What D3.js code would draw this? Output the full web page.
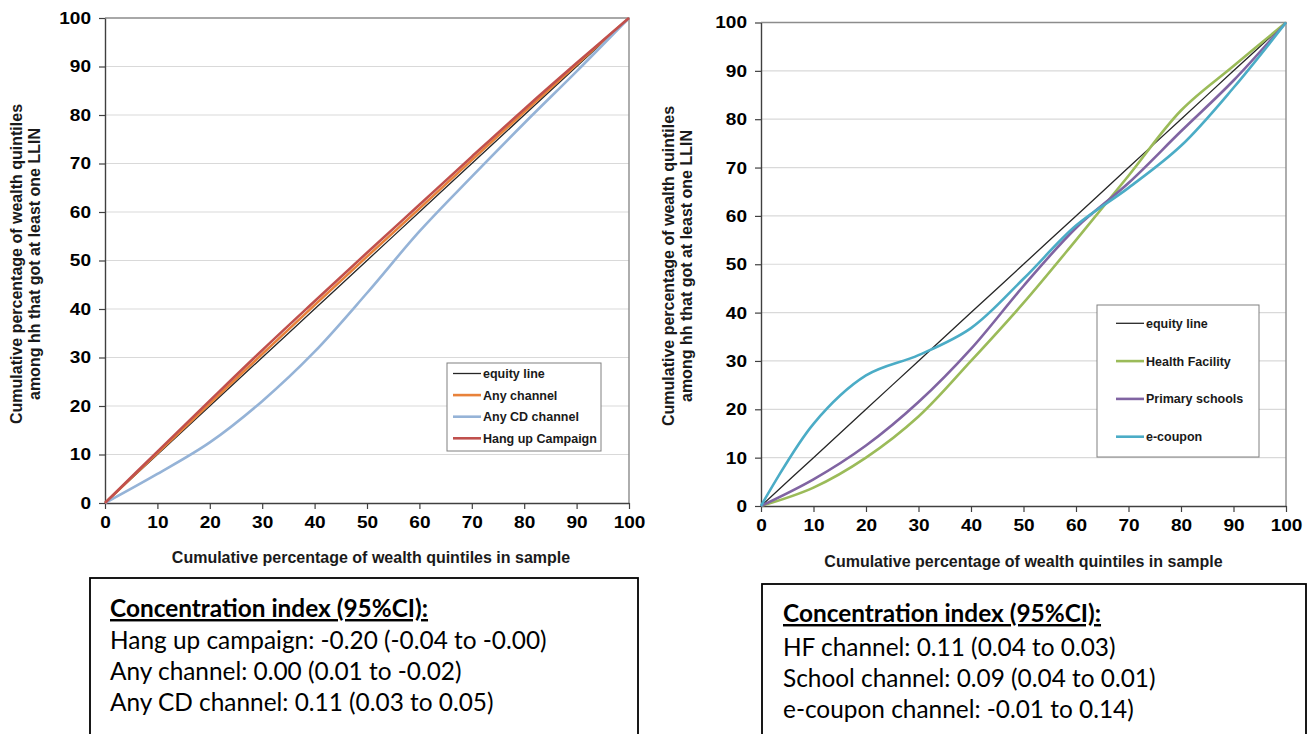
<!DOCTYPE html>
<html>
<head>
<meta charset="utf-8">
<script src="https://cdn.jsdelivr.net/npm/d3@7"></script>
<style>
  body { margin: 0; background: #fff; }
  svg { display: block; }
  .tick text { font-family: "Liberation Sans", Arial, sans-serif; font-weight: bold; font-size: 17px; fill: #000; }
</style>
</head>
<body>
<svg id="chart" width="1310" height="734"></svg>
<script>
// Cumulative percentage of the sample (x) and tick values
const xPct = [0, 10, 20, 30, 40, 50, 60, 70, 80, 90, 100];
const axisTicks = [0, 10, 20, 30, 40, 50, 60, 70, 80, 90, 100];

// Concentration curves: cumulative % of households with at least one LLIN
const equityLine     = [0, 10, 20, 30, 40, 50, 60, 70, 80, 90, 100];
const anyChannel     = [0, 10.3, 20.5, 30.7, 40.8, 50.8, 60.7, 70.7, 80.6, 90.4, 100];
const anyCDChannel   = [0, 6, 12.5, 21, 31.2, 43.3, 56, 67.3, 78.3, 89, 100];
const hangUpCampaign = [0, 10.6, 21.1, 31.5, 41.6, 51.6, 61.5, 71.4, 81.2, 90.7, 100];

const healthFacility = [0, 3.8, 10, 18.5, 30, 42, 55, 68.3, 81.8, 91, 100];
const primarySchools = [0, 5.5, 12.5, 21.5, 32.5, 45.5, 57.5, 66.8, 77.5, 88, 100];
const eCoupon        = [0, 17, 27, 31.2, 36.8, 47, 58, 65.8, 74.5, 86.5, 100];

// Series labels and colours
const leftNames  = ["equity line", "Any channel", "Any CD channel", "Hang up Campaign"];
const leftColors = ["#262626", "#E8823A", "#95B3D7", "#C0504D"];
const rightNames  = ["equity line", "Health Facility", "Primary schools", "e-coupon"];
const rightColors = ["#262626", "#9BBB59", "#8064A2", "#4BACC6"];

// Concentration index text
const ciTitle = "Concentration index (95%CI):";
const leftCI  = ["Hang up campaign: -0.20 (-0.04 to -0.00)", "Any channel: 0.00 (0.01 to -0.02)", "Any CD channel: 0.11 (0.03 to 0.05)"];
const rightCI = ["HF channel: 0.11 (0.04 to 0.03)", "School channel: 0.09 (0.04 to 0.01)", "e-coupon channel: -0.01 to 0.14)"];

const xTitle = "Cumulative percentage of wealth quintiles in sample";
const yTitle = ["Cumulative percentage of wealth quintiles", "among hh that got at least one LLIN"];

const svg = d3.select("#chart");
const sans = "'Liberation Sans', Arial, sans-serif";
const boxFont = "Lato, 'Open Sans', sans-serif";

function drawPanel(cfg) {
  const x = d3.scaleLinear().domain([0, 100]).range([cfg.x0, cfg.x1]);
  const y = d3.scaleLinear().domain([0, 100]).range([cfg.y0, cfg.y1]);
  const g = svg.append("g");

  // horizontal gridlines
  g.selectAll("line.grid").data(axisTicks.filter(t => t > 0 && t < 100)).join("line")
    .attr("x1", x(0)).attr("x2", x(100))
    .attr("y1", d => y(d)).attr("y2", d => y(d))
    .attr("stroke", "#d9d9d9").attr("stroke-width", 1.2);

  // top and right frame
  g.append("path")
    .attr("d", `M${x(0)},${y(100)}H${x(100)}V${y(0)}`)
    .attr("fill", "none").attr("stroke", "#8c8c8c").attr("stroke-width", 1.4);

  // axes
  const yAxis = g.append("g").attr("transform", `translate(${x(0)},0)`)
    .call(d3.axisLeft(y).tickValues(axisTicks).tickSize(6).tickPadding(8).tickSizeOuter(0));
  const xAxis = g.append("g").attr("transform", `translate(0,${y(0)})`)
    .call(d3.axisBottom(x).tickValues(axisTicks).tickSize(6).tickPadding(7).tickSizeOuter(0));
  [yAxis, xAxis].forEach(a => {
    a.select(".domain").attr("stroke", "#404040").attr("stroke-width", 1.4);
    a.selectAll(".tick line").attr("stroke", "#404040").attr("stroke-width", 1.2);
    a.selectAll(".tick text").each(function () {
      const w = this.getComputedTextLength();
      d3.select(this).attr("textLength", w * 1.12).attr("lengthAdjust", "spacingAndGlyphs");
    });
  });

  // axis titles
  g.append("text").attr("x", (x(0) + x(100)) / 2 + cfg.xTitleShift).attr("y", cfg.xTitleY)
    .attr("text-anchor", "middle").attr("font-family", sans).attr("font-weight", "bold")
    .attr("font-size", 16).attr("fill", "#1a1a1a").text(xTitle);
  yTitle.forEach((t, i) => {
    g.append("text")
      .attr("transform", `translate(${cfg.yTitleX + i * 17.5},${cfg.yTitleCY}) rotate(-90)`)
      .attr("text-anchor", "middle").attr("font-family", sans).attr("font-weight", "bold")
      .attr("font-size", 16).attr("fill", "#1a1a1a").text(t);
  });

  // curves
  const line = d3.line().curve(d3.curveCatmullRom.alpha(0.5))
    .x((d, i) => x(xPct[i])).y(d => y(d));
  cfg.series.forEach((s, i) => {
    g.append("path").datum(s).attr("d", line)
      .attr("fill", "none").attr("stroke", cfg.colors[i])
      .attr("stroke-width", i === 0 ? 1.3 : 2.6).attr("stroke-linejoin", "round");
  });

  // legend
  const L = cfg.legend;
  g.append("rect").attr("x", L.x).attr("y", L.y).attr("width", L.w).attr("height", L.h)
    .attr("fill", "#fff").attr("stroke", "#808080").attr("stroke-width", 1);
  cfg.names.forEach((n, i) => {
    const yy = L.firstY + i * L.step;
    g.append("line").attr("x1", L.lx0).attr("x2", L.lx1).attr("y1", yy).attr("y2", yy)
      .attr("stroke", cfg.colors[i]).attr("stroke-width", i === 0 ? 1.3 : 2.6);
    g.append("text").attr("x", L.lx1 + 2).attr("y", yy + 4.5)
      .attr("font-family", sans).attr("font-weight", "bold").attr("font-size", 12.5)
      .attr("fill", "#1a1a1a").text(n);
  });

  // concentration index box
  const B = cfg.box;
  g.append("rect").attr("x", B.x).attr("y", B.y).attr("width", B.w).attr("height", 200)
    .attr("fill", "#fff").attr("stroke", "#000").attr("stroke-width", 1.8);
  g.append("text").attr("x", B.tx).attr("y", B.baselines[0])
    .attr("font-family", boxFont).attr("font-weight", "bold")
    .attr("font-size", 24.4).attr("text-decoration", "underline").attr("fill", "#000").text(ciTitle);
  cfg.ci.forEach((t, i) => {
    g.append("text").attr("x", B.tx).attr("y", B.baselines[i + 1])
      .attr("font-family", boxFont)
      .attr("font-size", 24.4).attr("fill", "#000").text(t);
  });
}

drawPanel({
  x0: 105, x1: 629, y0: 503, y1: 18,
  xTitleY: 563, xTitleShift: 4, yTitleX: 22, yTitleCY: 264,
  series: [equityLine, anyChannel, anyCDChannel, hangUpCampaign],
  names: leftNames, colors: leftColors,
  legend: { x: 447, y: 363, w: 154, h: 88, firstY: 373.5, step: 21.6, lx0: 453, lx1: 481 },
  box: { x: 90, y: 578, w: 548, tx: 110, baselines: [617, 649, 680, 711] },
  ci: leftCI
});

drawPanel({
  x0: 761, x1: 1286, y0: 506, y1: 22.5,
  xTitleY: 567, xTitleShift: 0, yTitleX: 674, yTitleCY: 266,
  series: [equityLine, healthFacility, primarySchools, eCoupon],
  names: rightNames, colors: rightColors,
  legend: { x: 1097, y: 305, w: 162, h: 152, firstY: 323.3, step: 37.8, lx0: 1116, lx1: 1144 },
  box: { x: 762, y: 584, w: 544, tx: 783, baselines: [622, 656, 687, 718] },
  ci: rightCI
});
</script>
</body>
</html>
